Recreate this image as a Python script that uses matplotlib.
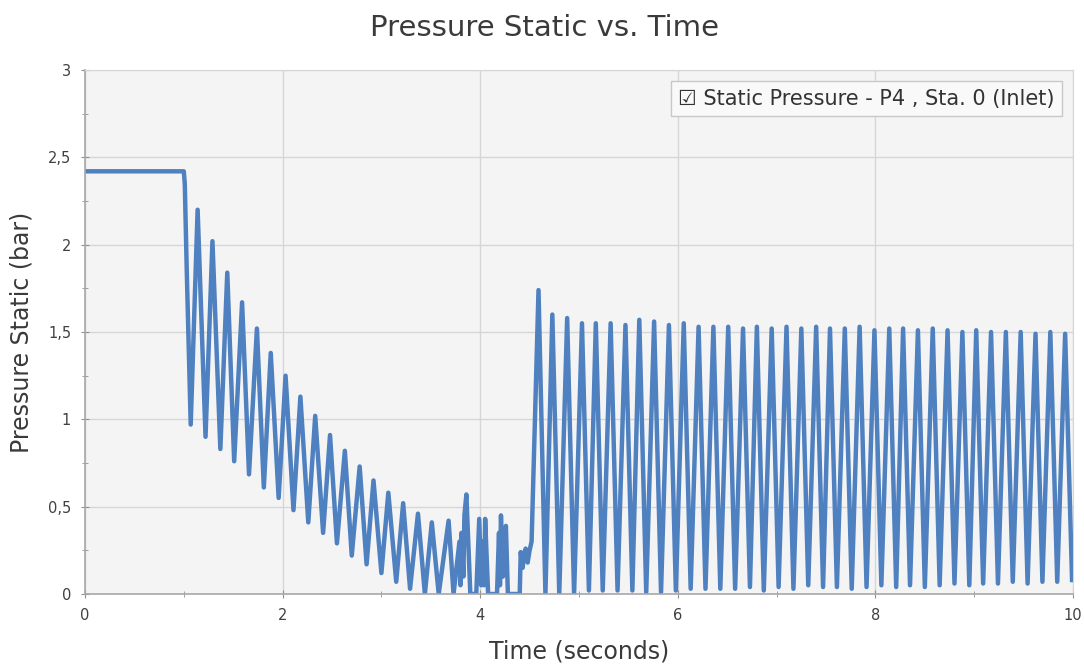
import matplotlib.pyplot as plt
import numpy as np
from matplotlib.ticker import MultipleLocator, FuncFormatter

# steady state before the trip, then the initial drop (time s, pressure bar)
start_t = [0.0, 1.00, 1.01, 1.02, 1.03, 1.05, 1.07]
start_p = [2.42, 2.42, 2.35, 2.10, 1.85, 1.40, 0.97]

# decaying oscillation: peaks and the troughs that follow them
decay_peak_t = [1.14, 1.29, 1.44, 1.59, 1.74, 1.88, 2.03, 2.18, 2.33, 2.48, 2.63, 2.78,
                2.92, 3.07, 3.22, 3.37, 3.51]
decay_peak_p = [2.20, 2.02, 1.84, 1.67, 1.52, 1.38, 1.25, 1.13, 1.02, 0.91, 0.82, 0.73,
                0.65, 0.58, 0.52, 0.46, 0.41]
decay_trough_t = [1.22, 1.37, 1.51, 1.66, 1.81, 1.96, 2.11, 2.26, 2.41, 2.55, 2.70, 2.85,
                  3.00, 3.15, 3.29, 3.44]
decay_trough_p = [0.90, 0.83, 0.76, 0.685, 0.61, 0.55, 0.48, 0.41, 0.35, 0.29, 0.22, 0.17,
                  0.12, 0.07, 0.03, 0.00]

# column separation region (3.5 - 4.6 s)
chaos_t = [3.58, 3.68, 3.73, 3.79, 3.80, 3.81, 3.83, 3.84, 3.86, 3.90, 3.96, 3.99, 4.01,
           4.02, 4.04, 4.05, 4.08, 4.17, 4.19, 4.20, 4.21, 4.23, 4.24, 4.26, 4.28, 4.40,
           4.41, 4.43, 4.44, 4.46, 4.48, 4.50, 4.52]
chaos_p = [0.00, 0.42, 0.00, 0.30, 0.05, 0.35, 0.10, 0.45, 0.57, 0.00, 0.00, 0.43, 0.05,
           0.30, 0.05, 0.43, 0.00, 0.00, 0.35, 0.05, 0.45, 0.10, 0.20, 0.39, 0.00, 0.00,
           0.24, 0.15, 0.22, 0.26, 0.18, 0.25, 0.30]

# sustained oscillation after the column rejoins
osc_peak_t = [4.59, 4.73, 4.88, 5.03, 5.17, 5.32, 5.47, 5.61, 5.76, 5.91, 6.06, 6.21, 6.36,
              6.51, 6.66, 6.80, 6.95, 7.10, 7.25, 7.40, 7.54, 7.69, 7.84, 7.99, 8.14, 8.28,
              8.43, 8.58, 8.73, 8.88, 9.02, 9.17, 9.32, 9.47, 9.62, 9.77, 9.92]
osc_peak_p = [1.74, 1.60, 1.58, 1.55, 1.55, 1.55, 1.54, 1.57, 1.56, 1.54, 1.55, 1.53, 1.53,
              1.53, 1.52, 1.53, 1.52, 1.53, 1.52, 1.53, 1.52, 1.52, 1.53, 1.51, 1.52, 1.52,
              1.51, 1.52, 1.51, 1.50, 1.51, 1.50, 1.50, 1.50, 1.49, 1.50, 1.49]
osc_trough_t = [4.66, 4.80, 4.95, 5.10, 5.24, 5.39, 5.54, 5.68, 5.83, 5.98, 6.13, 6.28, 6.43,
                6.58, 6.73, 6.87, 7.02, 7.17, 7.32, 7.47, 7.61, 7.76, 7.91, 8.06, 8.21, 8.35,
                8.50, 8.65, 8.80, 8.95, 9.09, 9.24, 9.39, 9.54, 9.69, 9.84, 9.99]
osc_trough_p = [0.00, 0.00, 0.00, 0.02, 0.02, 0.02, 0.02, 0.01, 0.01, 0.02, 0.03, 0.03, 0.03,
                0.03, 0.04, 0.02, 0.04, 0.03, 0.05, 0.04, 0.04, 0.03, 0.04, 0.05, 0.04, 0.05,
                0.04, 0.05, 0.06, 0.05, 0.06, 0.06, 0.07, 0.06, 0.07, 0.07, 0.08]


def interleave(a, b):
    # a[0], b[0], a[1], b[1], ... (a may be one longer than b)
    out = []
    for i in range(len(a)):
        out.append(a[i])
        if i < len(b):
            out.append(b[i])
    return out


t = np.array(start_t + interleave(decay_peak_t, decay_trough_t) + chaos_t
             + interleave(osc_peak_t, osc_trough_t))
p = np.array(start_p + interleave(decay_peak_p, decay_trough_p) + chaos_p
             + interleave(osc_peak_p, osc_trough_p))

fig = plt.figure(figsize=(10.84, 6.66), dpi=100)
ax = fig.add_axes([0.0784, 0.1081, 0.9115, 0.7868])
ax.set_facecolor('#f4f4f4')

ax.plot(t, p, color='#4f80bf', lw=3.2, solid_joinstyle='round',
        label='\u2611 Static Pressure - P4 , Sta. 0 (Inlet)')

ax.set_xlim(0, 10)
ax.set_ylim(0, 3)
ax.xaxis.set_major_locator(MultipleLocator(2))
ax.xaxis.set_minor_locator(MultipleLocator(1))
ax.yaxis.set_major_locator(MultipleLocator(0.5))
ax.yaxis.set_minor_locator(MultipleLocator(0.25))
ax.yaxis.set_major_formatter(FuncFormatter(lambda v, pos: ('%g' % v).replace('.', ',')))

ax.grid(True, which='major', color='#d6d6d6', lw=1)
ax.set_axisbelow(True)
for s in ['left', 'bottom']:
    ax.spines[s].set_color('#a8a8a8')
    ax.spines[s].set_linewidth(1.2)
for s in ['top', 'right']:
    ax.spines[s].set_color('#d6d6d6')
ax.tick_params(which='both', direction='inout', color='#909090', labelcolor='#404040',
               labelsize=10.5, top=False, right=False)
ax.tick_params(which='major', length=6)
ax.tick_params(which='minor', length=4)
ax.tick_params(axis='y', pad=7)
ax.tick_params(axis='x', pad=7)

# title is centred on the figure, not on the axes
fig.suptitle('Pressure Static vs. Time', fontsize=21, color='#3a3a3a', x=0.502, y=0.958,
             va='center')
ax.set_xlabel('Time (seconds)', fontsize=17, color='#3a3a3a', labelpad=12)
ax.set_ylabel('Pressure Static (bar)', fontsize=17, color='#3a3a3a', labelpad=10)

leg = ax.legend(loc='upper right', handlelength=0, handletextpad=0, fontsize=15,
                fancybox=False, edgecolor='#c8c8c8', facecolor='#f9f9f9', framealpha=1,
                borderaxespad=0.55, borderpad=0.35)
for txt in leg.get_texts():
    txt.set_color('#333333')

fig.savefig('out.png', dpi=100)
